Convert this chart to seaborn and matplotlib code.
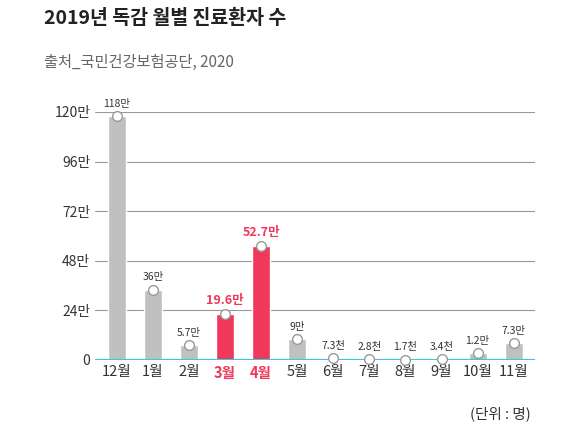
import matplotlib
matplotlib.use("Agg")
import matplotlib.pyplot as plt
import seaborn as sns
import pandas as pd

months = ["12월", "1월", "2월", "3월", "4월", "5월", "6월", "7월", "8월", "9월", "10월", "11월"]
values = [118, 34, 7, 22, 55, 10, 0.73, 0.28, 0.17, 0.34, 3.4, 8.2]
labels = ["118만", "36만", "5.7만", "19.6만", "52.7만", "9만", "7.3천", "2.8천", "1.7천", "3.4천", "1.2만", "7.3만"]
highlight = ["3월", "4월"]
yticks = [0, 24, 48, 72, 96, 120]
ytick_labels = ["0", "24만", "48만", "72만", "96만", "120만"]

sns.set_style("white")
plt.rcParams["font.family"] = ["Noto Sans CJK KR", "DejaVu Sans"]

GRAY = "#c0c0c0"
RED = "#f0385a"
df = pd.DataFrame({"month": months, "value": values})
colors = [RED if m in highlight else GRAY for m in months]

fig = plt.figure(figsize=(5.8, 4.29), dpi=100)
ax = fig.add_axes([0.164, 0.161, 0.759, 0.578])
sns.barplot(data=df, x="month", y="value", hue="month", palette=colors,
            legend=False, width=0.5, ax=ax, saturation=1)
ax.set_ylim(0, 120)
ax.set_xlim(-0.6, 11.6)
ax.set_yticks(yticks)
ax.set_yticklabels(ytick_labels, fontsize=10, color="#333333")
for y in yticks[1:]:
    ax.axhline(y, color="#999999", lw=0.8, zorder=0)
ax.axhline(0, color="#3ec6e0", lw=1.5, zorder=3)
for s in ax.spines.values():
    s.set_visible(False)
ax.tick_params(length=0)
ax.set_xlabel("")
ax.set_ylabel("")
for lab, m in zip(ax.get_xticklabels(), months):
    lab.set_fontsize(10.5)
    if m in highlight:
        lab.set_color(RED)
        lab.set_fontweight("bold")
    else:
        lab.set_color("#333333")

for i, (v, t, m) in enumerate(zip(values, labels, months)):
    ax.plot(i, v, "o", ms=7, mfc="white", mec="#999999", mew=1, zorder=5, clip_on=False)
    hl = m in highlight
    ax.text(i, v + 3.5, t, ha="center", va="bottom", fontsize=9 if hl else 7.5,
            color=RED if hl else "#333333", fontweight="bold" if hl else "normal")

fig.text(0.075, 0.945, "2019년 독감 월별 진료환자 수", fontsize=14, fontweight="bold", color="#222222")
fig.text(0.075, 0.845, "출처_국민건강보험공단, 2020", fontsize=11, color="#666666")
fig.text(0.915, 0.025, "(단위 : 명)", fontsize=10.5, ha="right", color="#333333")
fig.savefig("out.png", dpi=100)
